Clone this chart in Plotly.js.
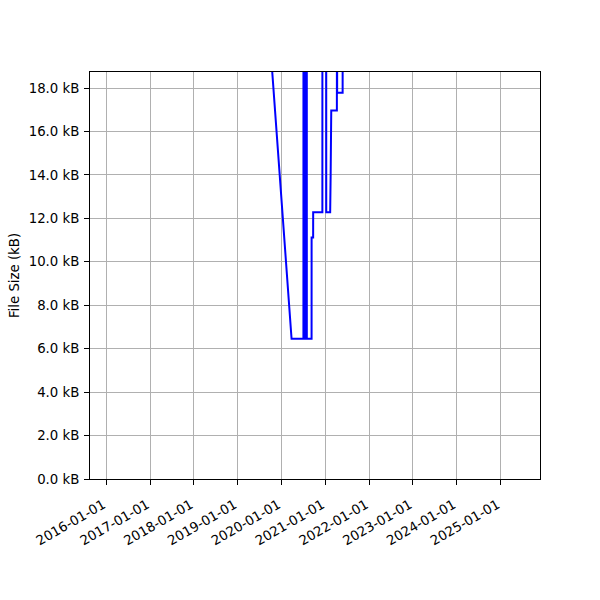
<!DOCTYPE html>
<html>
<head>
<meta charset="utf-8">
<script src="https://cdn.plot.ly/plotly-3.0.1.min.js"></script>
<style>html,body{margin:0;padding:0;background:#fff;}#chart{width:600px;height:600px;}</style>
</head>
<body>
<div id="chart"></div>
<script>
// File size history (kB); values above ~18.7 kB are outside the visible range
const dates = [
  "2016-02-06", "2016-06-15", "2016-11-20", "2017-04-10", "2017-09-01",
  "2018-02-14", "2018-08-01", "2019-01-20", "2019-06-01",
  "2020-03-26",
  "2020-07-03 00:00", "2020-07-03 06:00", "2020-07-11 00:00", "2020-07-11 06:00",
  "2020-07-20 00:00", "2020-07-20 06:00", "2020-07-31 00:00", "2020-07-31 06:00",
  "2020-09-09 00:00", "2020-09-09 06:00", "2020-09-22 00:00", "2020-09-22 06:00",
  "2020-12-08 00:00", "2020-12-08 06:00", "2021-01-09 00:00", "2021-01-09 06:00",
  "2021-02-11", "2021-02-15", "2021-02-20",
  "2021-04-08 00:00", "2021-04-08 06:00", "2021-04-10 00:00", "2021-04-10 06:00",
  "2021-05-26 00:00", "2021-05-26 06:00",
  "2021-11-01", "2022-06-15", "2023-01-10", "2023-09-01", "2024-04-15",
  "2024-11-01", "2025-06-08"
];
const sizes = [
  21.5, 23.0, 24.2, 25.0, 26.1,
  26.8, 27.5, 28.4, 29.25,
  6.46,
  6.46, 25.0, 25.0, 6.46,
  6.46, 25.0, 25.0, 6.46,
  6.46, 11.12, 11.12, 12.28,
  12.28, 24.0, 24.0, 12.28,
  12.28, 14.0, 16.97,
  16.97, 22.0, 22.0, 17.78,
  17.78, 23.0,
  24.5, 25.8, 27.0, 28.2, 29.5,
  30.4, 31.2
];
const xTickVals = ["2016-01-01","2017-01-01","2018-01-01","2019-01-01","2020-01-01",
  "2021-01-01","2022-01-01","2023-01-01","2024-01-01","2025-01-01"];
const xTickText = xTickVals.slice();
const yTickVals = [0, 2, 4, 6, 8, 10, 12, 14, 16, 18];
const yTickText = yTickVals.map(v => v.toFixed(1) + " kB");

const font = {family: "DejaVu Sans, sans-serif", size: 13.3, color: "#000"};

Plotly.newPlot("chart", [{
  x: dates, y: sizes, type: "scatter", mode: "lines",
  line: {color: "#0000ff", width: 2, simplify: false},
  hoverinfo: "skip"
}], {
  width: 600, height: 600,
  margin: {l: 90, r: 60, t: 72, b: 121, pad: 0},
  paper_bgcolor: "#fff", plot_bgcolor: "#fff",
  showlegend: false,
  font: font,
  xaxis: {
    type: "date", range: ["2015-08-19", "2025-11-27"],
    tickmode: "array", tickvals: xTickVals, ticktext: xTickText,
    tickangle: -30, ticks: "outside", ticklen: 5, tickcolor: "#000", tickwidth: 1,
    ticklabelstandoff: 7, ticklabelshift: -3,
    showgrid: true, gridcolor: "#b0b0b0", gridwidth: 1,
    showline: true, linecolor: "#000", linewidth: 1, mirror: true,
    zeroline: false, tickfont: font, automargin: false
  },
  yaxis: {
    range: [0, 18.74],
    tickmode: "array", tickvals: yTickVals, ticktext: yTickText,
    ticks: "outside", ticklen: 5, tickcolor: "#000", tickwidth: 1,
    ticklabelstandoff: 2,
    showgrid: true, gridcolor: "#b0b0b0", gridwidth: 1,
    showline: true, linecolor: "#000", linewidth: 1, mirror: true,
    zeroline: false, tickfont: font, automargin: false,
    title: {text: "File Size (kB)", font: font, standoff: 6}
  }
}, {staticPlot: true});
</script>
</body>
</html>
